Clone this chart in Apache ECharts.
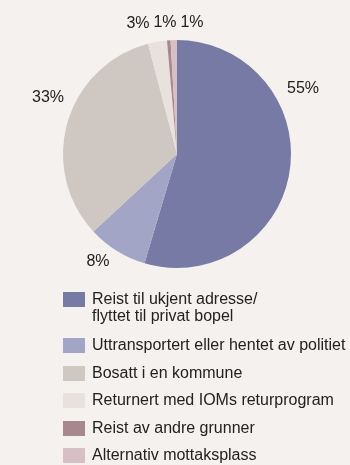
<!DOCTYPE html>
<html>
<head>
<meta charset="utf-8">
<script src="https://cdn.jsdelivr.net/npm/echarts@6/dist/echarts.min.js"></script>
<style>
html,body{margin:0;padding:0;background:#f4f1ee;}
#chart{width:350px;height:465px;}
</style>
</head>
<body>
<div id="chart"></div>
<script>
const categories = [
  'Reist til ukjent adresse/\nflyttet til privat bopel',
  'Uttransportert eller hentet av politiet',
  'Bosatt i en kommune',
  'Returnert med IOMs returprogram',
  'Reist av andre grunner',
  'Alternativ mottaksplass'
];
const values = [54.6, 8.5, 32.8, 2.7, 0.5, 0.9];
const pctLabels = ['55%', '8%', '33%', '3%', '1%', '1%'];
const colors = ['#767aa4', '#a2a5c5', '#cfc7c1', '#e8e1dd', '#a88890', '#d6c0c6'];

// label anchor positions (layout only)
const labelPos = [[303, 89], [98, 262], [48, 98], [138, 24], [165, 23], [192, 23]];
const legendIconTops = [292, 338, 366, 393, 421, 448];

const chart = echarts.init(document.getElementById('chart'), null, {renderer: 'canvas'});

const legends = categories.map((name, i) => ({
  orient: 'vertical',
  left: 63,
  top: name.includes('\n') ? legendIconTops[i] - 19 : legendIconTops[i] - 2,
  padding: 0,
  data: [name],
  icon: 'rect',
  itemWidth: 22,
  itemHeight: 15,
  selectedMode: false,
  formatter: n => n.includes('\n') ? '\n' + n : n,
  textStyle: {
    fontFamily: 'Liberation Sans, Arial, sans-serif',
    fontSize: 16,
    lineHeight: 17,
    color: '#222',
    padding: [2, 0, 0, 2]
  }
}));

chart.setOption({
  animation: false,
  backgroundColor: '#f4f1ee',
  color: colors,
  legend: legends,
  series: [{
    type: 'pie',
    center: [177, 154],
    radius: 114,
    startAngle: 90,
    clockwise: true,
    avoidLabelOverlap: false,
    data: categories.map((n, i) => ({name: n, value: values[i]})),
    itemStyle: {borderWidth: 0},
    label: {
      show: true,
      position: 'outside',
      formatter: p => pctLabels[p.dataIndex],
      fontFamily: 'Liberation Sans, Arial, sans-serif',
      fontSize: 16,
      color: '#222'
    },
    labelLine: {show: false},
    labelLayout: p => ({
      x: labelPos[p.dataIndex][0],
      y: labelPos[p.dataIndex][1],
      align: 'center',
      verticalAlign: 'middle'
    }),
    emphasis: {disabled: true}
  }]
});
</script>
</body>
</html>
